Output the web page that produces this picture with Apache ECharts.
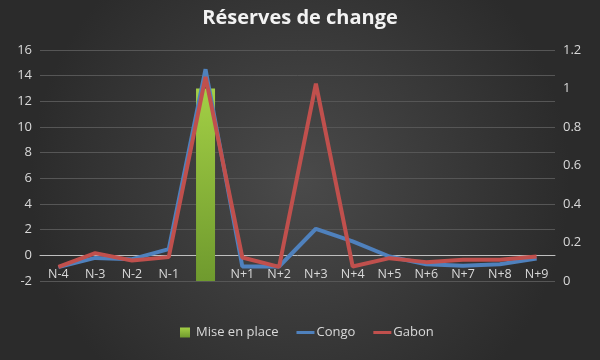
<!DOCTYPE html>
<html>
<head>
<meta charset="utf-8">
<script src="https://cdn.jsdelivr.net/npm/echarts@6/dist/echarts.min.js"></script>
<style>html,body{margin:0;padding:0;background:#333;}#c{width:600px;height:360px;}</style>
</head>
<body>
<div id="c"></div>
<script>
const categories = ['N-4','N-3','N-2','N-1','','N+1','N+2','N+3','N+4','N+5','N+6','N+7','N+8','N+9'];
const miseEnPlace = [null,null,null,null,1,null,null,null,null,null,null,null,null,null];
const congo = [-0.92,-0.2,-0.3,0.48,14.5,-0.87,-0.87,2.07,1.08,-0.09,-0.69,-0.82,-0.69,-0.25];
const gabon = [-0.9,0.17,-0.4,-0.14,13.9,-0.17,-0.9,13.37,-0.87,-0.22,-0.53,-0.35,-0.35,-0.09];
const leftTicks = {min:-2, max:16, interval:2};
const rightTicks = {min:0, max:1.2, interval:0.2};

const chart = echarts.init(document.getElementById('c'));
const font = '"Open Sans", sans-serif';
chart.setOption({
  backgroundColor: {type:'radial', x:0.5, y:0.5, r:0.75, colorStops:[{offset:0,color:'#4a4a4a'},{offset:1,color:'#2b2b2b'}]},
  animation:false,
  title:{text:'Réserves de change', left:'center', top:3, textStyle:{color:'#f2f2f2', fontSize:20, fontWeight:'bold', fontFamily:font}},
  grid:{left:40, right:45, top:50, bottom:79, containLabel:false},
  legend:{
    bottom:16, left:175, itemWidth:18, itemHeight:10, itemGap:18, symbolKeepAspect:true,
    textStyle:{color:'#d9d9d9', fontSize:13, fontFamily:font, padding:[0,0,0,-3]},
    data:[
      {name:'Mise en place', icon:'path://M0,0 h10 v10 h-10 z'},
      {name:'Congo', icon:'path://M0,0 h18 v3 h-18 z'},
      {name:'Gabon', icon:'path://M0,0 h18 v3 h-18 z'}
    ]
  },
  xAxis:{
    type:'category', data:categories, boundaryGap:true,
    axisLine:{onZero:true, lineStyle:{color:'#bfbfbf', width:1}},
    axisTick:{show:false},
    axisLabel:{color:'#d9d9d9', fontSize:12.5, fontFamily:font, margin:-13, interval:0},
    splitLine:{show:false}
  },
  yAxis:[
    {type:'value', min:leftTicks.min, max:leftTicks.max, interval:leftTicks.interval,
     axisLine:{show:false}, axisTick:{show:false},
     axisLabel:{color:'#d9d9d9', fontSize:13, fontFamily:font, margin:8},
     splitLine:{lineStyle:{color:'#565656', width:1}}},
    {type:'value', min:rightTicks.min, max:rightTicks.max, interval:rightTicks.interval, position:'right',
     axisLine:{show:false}, axisTick:{show:false},
     axisLabel:{color:'#d9d9d9', fontSize:13, fontFamily:font, margin:8},
     splitLine:{show:false}}
  ],
  series:[
    {name:'Mise en place', type:'bar', yAxisIndex:1, data:miseEnPlace, barWidth:19,
     itemStyle:{color:{type:'linear',x:0,y:0,x2:0,y2:1,colorStops:[{offset:0,color:'#a3cf45'},{offset:1,color:'#6f9a2e'}]}}},
    {name:'Congo', type:'line', yAxisIndex:0, data:congo, symbol:'none', lineStyle:{color:'#4f81bd', width:4}, itemStyle:{color:'#4f81bd'}},
    {name:'Gabon', type:'line', yAxisIndex:0, data:gabon, symbol:'none', lineStyle:{color:'#c0504d', width:4}, itemStyle:{color:'#c0504d'}}
  ]
});
</script>
</body>
</html>
